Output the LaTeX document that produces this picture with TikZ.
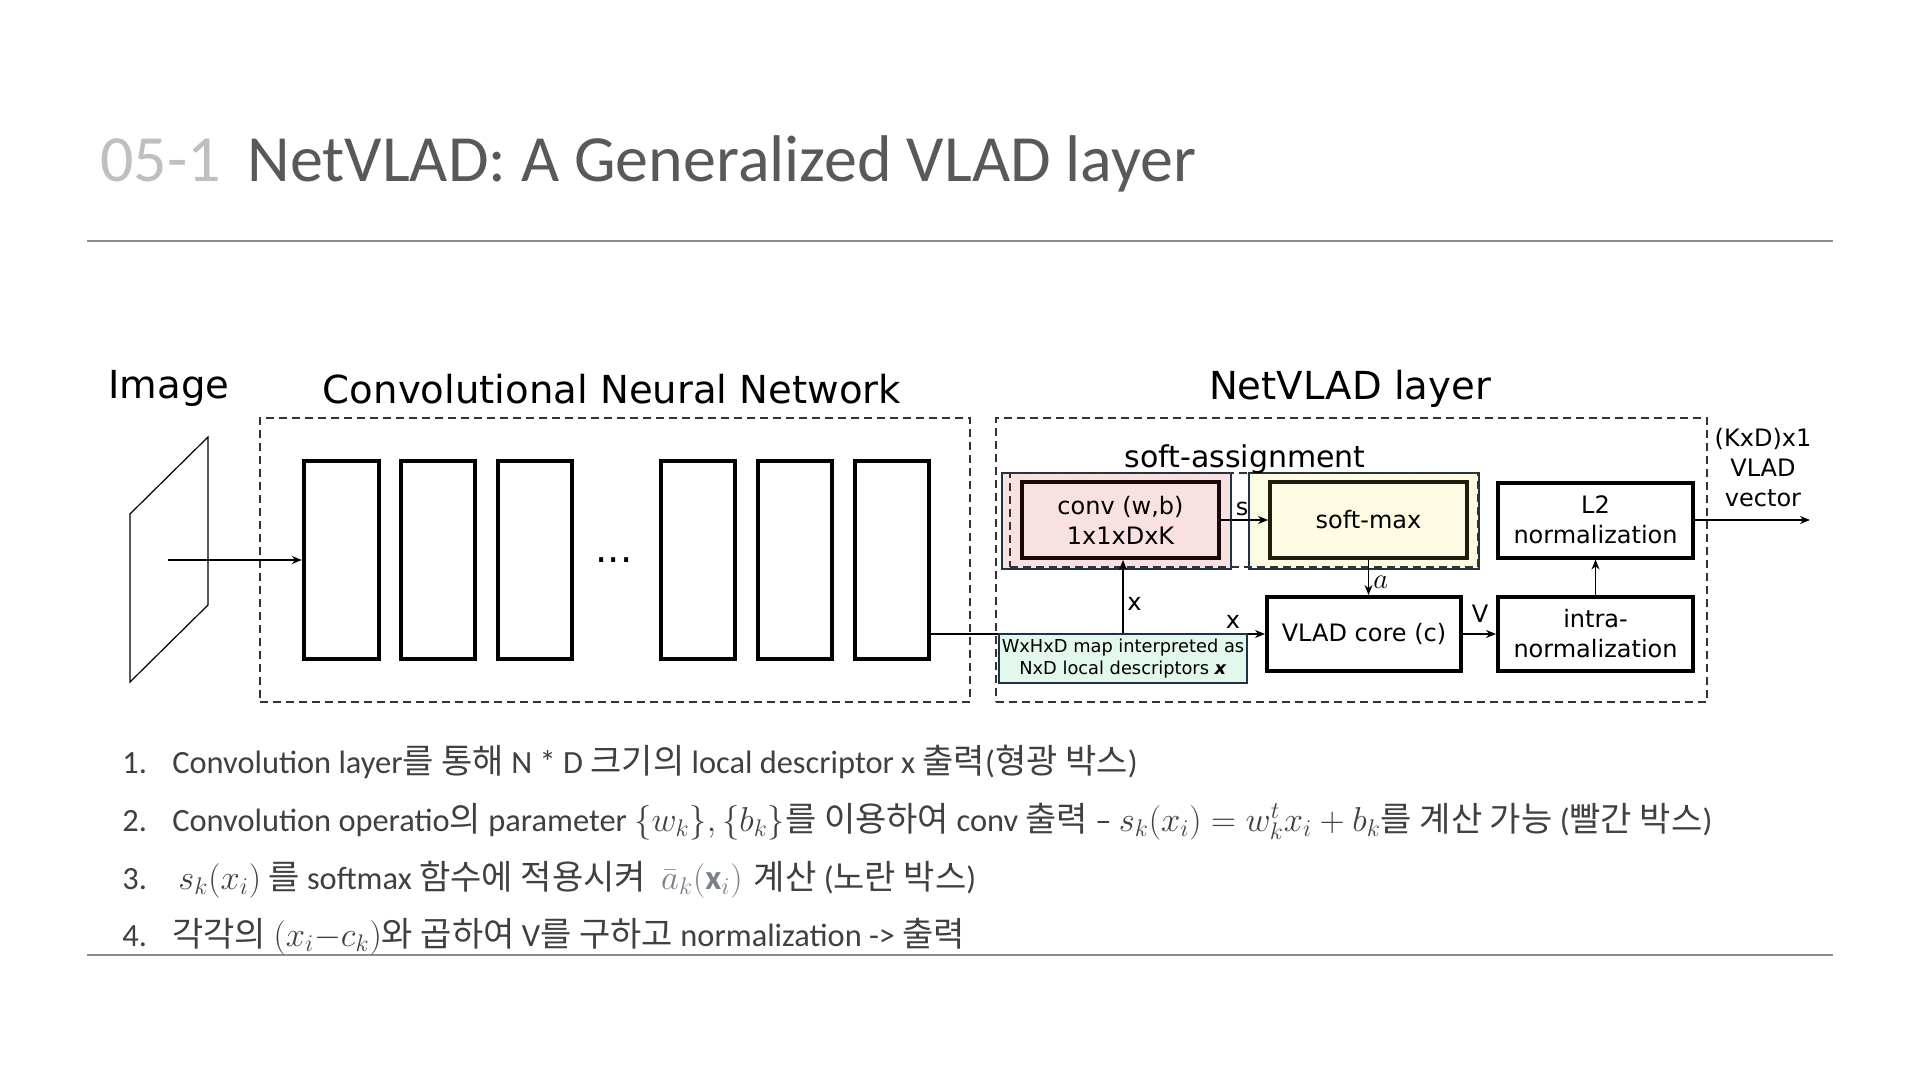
\documentclass[tikz,border=0pt]{standalone}
\usepackage{fontspec}
\setmainfont{Carlito}
\newfontfamily\dv{DejaVu Sans}
\newfontfamily\kr[Scale=1.05]{Noto Sans CJK KR}
\usetikzlibrary{arrows.meta,fit}
\definecolor{titlegray}{HTML}{595959}
\definecolor{numgray}{HTML}{BFBFBF}
\definecolor{rulegray}{HTML}{8C8C8C}
\definecolor{txt}{HTML}{404040}
\definecolor{navy}{HTML}{1C3447}
\definecolor{pinkfill}{HTML}{F9E1E2}
\definecolor{yellowfill}{HTML}{FDFCE3}
\definecolor{mintfill}{HTML}{E2F8EC}
\definecolor{dashgray}{HTML}{333333}
\definecolor{convdark}{HTML}{1A0808}
\definecolor{smdark}{HTML}{1E1E0C}
\definecolor{pastegray}{HTML}{7A7F8C}
% formulas in the list are set a little larger than the running text
\newcommand\mathseg[1]{{\fontsize{17.4}{20}\selectfont$#1$}}
\begin{document}
\begin{tikzpicture}[x=0.5pt,y=-0.5pt,
  lbl/.style={font=\dv\fontsize{19.3}{23}\selectfont, inner sep=0},
  dbox/.style={draw=dashgray, dash pattern=on 4pt off 2.5pt, line width=0.7pt, inner sep=0},
  layerbox/.style={draw, line width=2.2pt, inner sep=0},
  blk/.style={draw, line width=2pt, fill=white, inner sep=0, align=center,
              font=\dv\fontsize{12}{15}\selectfont},
  grp/.style={draw=navy, line width=1.2pt, inner sep=0},
  arr/.style={-{Stealth[length=5pt,width=4pt]}, line width=0.6pt},
  small/.style={font=\dv\fontsize{12}{15}\selectfont, inner sep=0},
  item/.style={anchor=base west, inner sep=0, text=txt, font=\fontsize{16.2}{19}\selectfont},
]
\fill[white] (0,0) rectangle (1920,1080);
\useasboundingbox (0,0) rectangle (1920,1080);

% heading
\node[anchor=base west, inner sep=0, text=numgray, font=\fontsize{33}{40}\selectfont] (num) at (100,182) {05-1};
\node[anchor=base west, inner sep=0, text=titlegray, font=\fontsize{33}{40}\selectfont] (title) at (247,182) {NetVLAD: A Generalized VLAD layer};
\draw[rulegray, line width=0.8pt] (87,241) -- (1833,241);
\draw[rulegray, line width=0.8pt] (87,955) -- (1833,955);

% section captions
\node[lbl, anchor=base] (imglbl) at (169,398) {Image};
\node[lbl, anchor=base] (cnnlbl) at (612,403) {Convolutional Neural Network};
\node[lbl, anchor=base] (nvlbl) at (1350,400) {NetVLAD layer};

% dashed frames
\node[dbox, fit={(260,418) (970,702)}] (cnnframe) {};
\node[dbox, fit={(996,418) (1707,702)}] (nvframe) {};

% input image
\draw[line width=0.6pt] (130,514) -- (208,437) -- (208,605) -- (130,682) -- cycle;
\coordinate (imgc) at (168,560);

% convolutional layers
\node[layerbox, fit={(304,461) (379,659)}] (l1) {};
\node[layerbox, fit={(401,461) (475,659)}] (l2b) {};
\node[layerbox, fit={(498,461) (572,659)}] (l3) {};
\node[lbl, anchor=base] (dots) at (614,562) {...};
\node[layerbox, fit={(661,461) (735,659)}] (l4) {};
\node[layerbox, fit={(758,461) (832,659)}] (l5) {};
\node[layerbox, fit={(855,461) (929,659)}] (l6) {};
\draw[arr] (imgc) -- (l1.west |- imgc);

% soft-assignment group
\node[grp, fill=pinkfill, fit={(1002,473) (1231,569)}] (convgrp) {};
\node[grp, fill=yellowfill, fit={(1249,473) (1479,569)}] (smgrp) {};
\node[dbox, fit={(1010,473) (1478,567)}] (saframe) {};
\node[anchor=base, inner sep=0, font=\dv\fontsize{15}{18}\selectfont] (salbl) at (1245,467) {soft-assignment};
\node[blk, fill=pinkfill, draw=convdark, minimum width=98.5pt, minimum height=38pt] (conv) at (1120.5,520) {conv (w,b)\\1x1xDxK};
\node[blk, fill=yellowfill, draw=smdark, minimum width=98.5pt, minimum height=38pt] (sm) at (1368.5,520) {soft-max};

% VLAD blocks
\node[blk, minimum width=97pt, minimum height=37pt] (vlad) at (1364,634) {VLAD core (c)};
\node[blk, minimum width=97.5pt, minimum height=37.5pt] (l2n) at (1595.5,520) {L2\\normalization};
\node[blk, minimum width=97.5pt, minimum height=37pt] (intra) at (1595.5,634) {intra-\\normalization};

% descriptor map
\draw[arr] (l6.east |- vlad.west) -- (vlad.west);
\node[grp, fill=mintfill, minimum width=124pt, minimum height=24.5pt, align=center,
      font=\dv\fontsize{8.9}{10.8}\selectfont] (desc) at (1123,658.5) {WxHxD map interpreted as\\NxD local descriptors \textbf{\textit{x}}};
\draw[arr] (desc.north) -- (desc.north |- conv.south);

% connectors inside the layer
\draw[arr] (conv.east) -- (sm.west);
\draw[arr] (sm.south) -- (sm.south |- vlad.north);
\draw[arr] (vlad.east) -- (intra.west);
\draw[arr] (intra.north) -- (l2n.south);
\coordinate (out) at (1810,520);
\draw[arr] (l2n.east) -- (out);

% connector labels
\node[small, anchor=base] (slbl) at (1242,515) {s};
\node[small, anchor=base west] (xv) at (1127,610) {x};
\node[small, anchor=base] (xh) at (1233,628) {x};
\node[inner sep=0, anchor=base west, font=\fontsize{14}{16}\selectfont] (albl) at (1373,588) {$a$};
\node[small, anchor=base] (vlbl) at (1480,622) {V};
\node[small, align=center] (outlbl) at (1763,468) {(KxD)x1\\VLAD\\vector};

% explanation list
\node[item] (n1) at (122,773) {1.};
\node[item] (t1) at (172,773) {Convolution layer{\kr 를 통해} N * D {\kr 크기의} local descriptor x {\kr 출력}({\kr 형광 박스})};
\node[item] (n2) at (122,831) {2.};
\node[item] (t2) at (172,831) {Convolution operatio{\kr 의} parameter \mathseg{\{w_k\},\{b_k\}}{\kr 를 이용하여} conv {\kr 출력} – \mathseg{s_k(x_i) = w_k^t x_i + b_k}{\kr 를 계산 가능} ({\kr 빨간 박스})};
\node[item] (n3) at (122,889) {3.};
\node[item] (t3) at (178,889) {\mathseg{s_k(x_i)} {\kr 를} softmax {\kr 함수에 적용시켜}\hspace{4pt} {\color{pastegray}\mathseg{\bar{a}_k(\mathbf{x}_i)}}\hspace{2pt} {\kr 계산} ({\kr 노란 박스})};
\node[item] (n4) at (122,946) {4.};
\node[item] (t4) at (172,946) {{\kr 각각의} \mathseg{(x_i{-}c_k)}{\kr 와 곱하여} V{\kr 를 구하고} normalization -> {\kr 출력}};
\end{tikzpicture}
\end{document}
